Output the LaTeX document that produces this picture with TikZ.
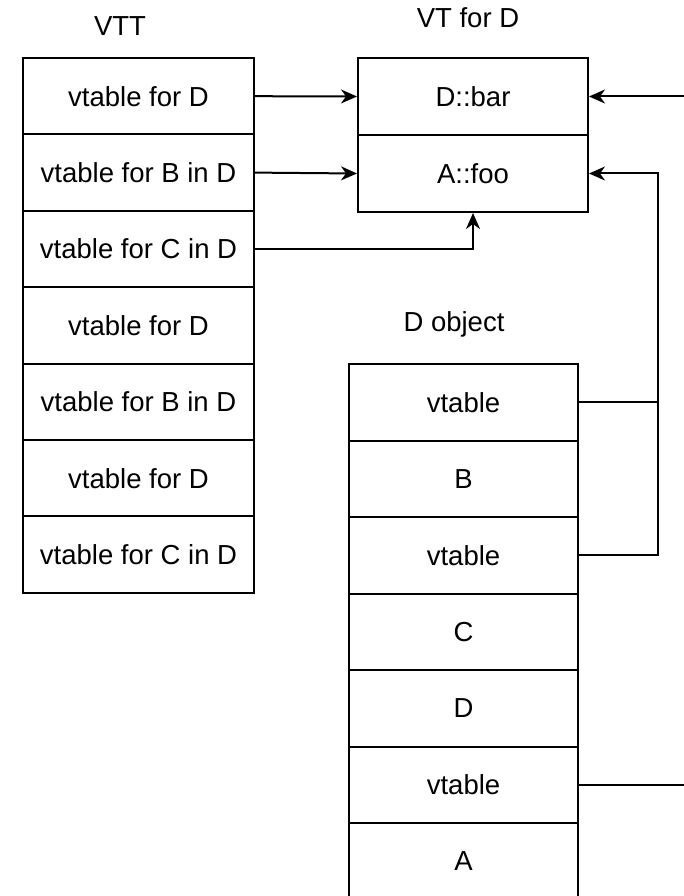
\documentclass[tikz,border=0pt]{standalone}
\usepackage{fontspec}
\setmainfont{Liberation Sans}
\usetikzlibrary{arrows.meta}
\begin{document}
\begin{tikzpicture}[x=1pt,y=-1pt,
  cell/.style={draw, line width=2pt, inner sep=0pt, font=\fontsize{27.5}{32}\selectfont},
  vttcell/.style={cell, minimum width=231pt, minimum height=76.4pt},
  vtcell/.style={cell, minimum width=230pt, minimum height=77pt},
  objcell/.style={cell, minimum width=229pt, minimum height=76.5pt},
  heading/.style={font=\fontsize{27.5}{32}\selectfont, inner sep=0pt, anchor=base},
  link/.style={line width=2pt},
  arr/.style={link, -{Stealth[length=16pt,width=14pt,inset=5pt]}}]
\useasboundingbox (0,0) rectangle (684,896);
\clip (0,0) rectangle (684,896);

% titles
\node[heading] (tVTT) at (120,36) {VTT};
\node[heading] (tVT) at (468,28) {VT for D};
\node[heading] (tObj) at (454,331) {D object};

% VTT
\node[vttcell] (t1) at (138.5,96.2) {vtable for D};
\node[vttcell] (t2) at (138.5,172.6) {vtable for B in D};
\node[vttcell] (t3) at (138.5,249.0) {vtable for C in D};
\node[vttcell] (t4) at (138.5,325.4) {vtable for D};
\node[vttcell] (t5) at (138.5,401.8) {vtable for B in D};
\node[vttcell] (t6) at (138.5,478.2) {vtable for D};
\node[vttcell] (t7) at (138.5,554.6) {vtable for C in D};

% VT for D
\node[vtcell] (v1) at (473,96.5) {D::bar};
\node[vtcell] (v2) at (473,173.5) {A::foo};

% D object
\node[objcell] (o1) at (463.5,402.25) {vtable};
\node[objcell] (o2) at (463.5,478.75) {B};
\node[objcell] (o3) at (463.5,555.25) {vtable};
\node[objcell] (o4) at (463.5,631.75) {C};
\node[objcell] (o5) at (463.5,708.25) {D};
\node[objcell] (o6) at (463.5,784.75) {vtable};
\node[objcell] (o7) at (463.5,861.25) {A};

% helper points
\coordinate (j1) at (658,402.25);
\coordinate (j2) at (658,555.25);
\coordinate (far1) at (705,784.75);
\coordinate (far2) at (705,96.5);

% connectors
\draw[arr] (t1.east) -- (v1.west);
\draw[arr] (t2.east) -- (v2.west);
\draw[arr] (t3.east) -| (v2.south);
\draw[arr] (o1.east) -- (j1) |- (v2.east);
\draw[link] (o3.east) -- (j2) -- (j1);
\draw[arr] (o6.east) -- (far1) -- (far2) -- (v1.east);
\end{tikzpicture}
\end{document}
